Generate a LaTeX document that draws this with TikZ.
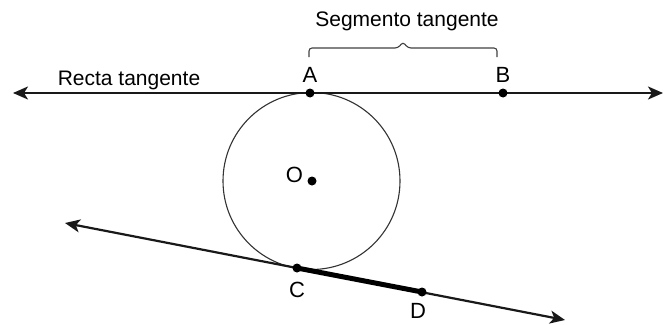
\documentclass[tikz,border=0pt]{standalone}
\usepackage{fontspec}
\setmainfont{Liberation Sans}
\usetikzlibrary{arrows.meta}
\begin{document}
\begin{tikzpicture}[x=1pt,y=-1pt,
  lbl/.style={inner sep=0pt,anchor=base,font=\fontsize{21}{24}\selectfont},
  ptlbl/.style={inner sep=0pt,anchor=base,font=\fontsize{22}{25}\selectfont},
  dot/.style={circle,fill=black,inner sep=0pt,minimum size=9pt},
  ray/.style={line width=2.2pt,draw=black!90,{Stealth[length=15pt,width=13pt,inset=4pt]}-{Stealth[length=15pt,width=13pt,inset=4pt]}}]
\useasboundingbox (0,0) rectangle (666,324);
% circle
\coordinate (o) at (311.5,181);
\draw[line width=1.1pt,black!80] (o) circle[radius=88.5];
% tangent line
\coordinate (l1) at (13,93);
\coordinate (r1) at (663,93);
\draw[ray] (l1) -- (r1);
% second line
\coordinate (l2) at (65,223);
\coordinate (r2) at (565,320);
\draw[ray] (l2) -- (r2);
% points
\node[dot] (A) at (310,93) {};
\node[dot] (B) at (503,93) {};
\node[dot] (O) at (312,181) {};
\node[dot] (C) at (297,268) {};
\node[dot] (D) at (422,292) {};
\draw[line width=5pt,black] (C.center) -- (D.center);
% labels
\node[ptlbl] (lA) at (310,82) {A};
\node[ptlbl] (lB) at (503,82) {B};
\node[ptlbl] (lO) at (294.5,182) {O};
\node[ptlbl] (lC) at (297,297) {C};
\node[ptlbl] (lD) at (418,318) {D};
\node[lbl] (rt) at (129,85) {Recta tangente};
\node[lbl] (st) at (407,27) {Segmento tangente};
% brace
\coordinate (b1) at (309,57);
\coordinate (b2) at (497,57);
\coordinate (bt) at (403,42);
\draw[line width=1.1pt,black!75,rounded corners=3pt]
  (b1) -- (309,48) -- (398,48) -- (bt) -- (408,48) -- (497,48) -- (b2);
\end{tikzpicture}
\end{document}
